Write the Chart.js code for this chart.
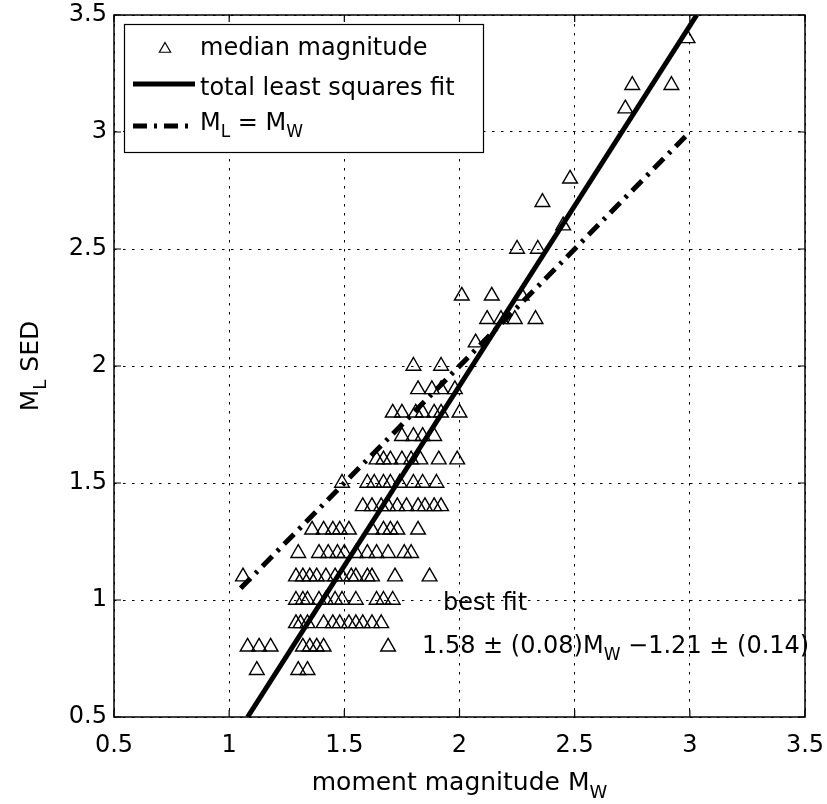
<!DOCTYPE html>
<html>
<head>
<meta charset="utf-8">
<script src="https://cdn.jsdelivr.net/npm/chart.js@4.4.0/dist/chart.umd.min.js"></script>
<style>
  html, body { margin: 0; padding: 0; background: #fff; }
  #wrap { width: 827px; height: 804px; }
</style>
</head>
<body>
<div id="wrap"><canvas id="chart" width="827" height="804"></canvas></div>
<script>
// median magnitude of each event: moment magnitude Mw (x) vs ML SED (y)
// one line per ML level
const mwMedian = [
  2.99,
  2.75, 2.92,
  2.72,
  2.48,
  2.36,
  2.45,
  2.25, 2.34,
  2.01, 2.14, 2.27,
  2.12, 2.18, 2.24, 2.33,
  2.07,
  1.80, 1.92,
  1.82, 1.88, 1.92, 1.98,
  1.71, 1.75, 1.81, 1.84, 1.89, 1.92, 2.00,
  1.75, 1.80, 1.84, 1.89,
  1.64, 1.67, 1.70, 1.75, 1.79, 1.83, 1.91, 1.99,
  1.49, 1.60, 1.63, 1.67, 1.70, 1.74, 1.80, 1.84, 1.90,
  1.58, 1.62, 1.66, 1.69, 1.73, 1.77, 1.82, 1.85, 1.89, 1.92,
  1.36, 1.41, 1.45, 1.48, 1.52, 1.62, 1.67, 1.70, 1.73, 1.82,
  1.30, 1.39, 1.43, 1.47, 1.50, 1.55, 1.60, 1.64, 1.69, 1.76, 1.79,
  1.06, 1.29, 1.32, 1.35, 1.38, 1.42, 1.46, 1.49, 1.53, 1.55, 1.60, 1.62, 1.72, 1.87,
  1.29, 1.32, 1.34, 1.39, 1.42, 1.46, 1.49, 1.55, 1.64, 1.67, 1.71,
  1.29, 1.31, 1.34, 1.41, 1.45, 1.48, 1.52, 1.55, 1.58, 1.62, 1.66,
  1.08, 1.13, 1.18, 1.32, 1.35, 1.38, 1.41, 1.69,
  1.12, 1.30, 1.34
];
const mlMedian = [
  3.4,
  3.2, 3.2,
  3.1,
  2.8,
  2.7,
  2.6,
  2.5, 2.5,
  2.3, 2.3, 2.3,
  2.2, 2.2, 2.2, 2.2,
  2.1,
  2.0, 2.0,
  1.9, 1.9, 1.9, 1.9,
  1.8, 1.8, 1.8, 1.8, 1.8, 1.8, 1.8,
  1.7, 1.7, 1.7, 1.7,
  1.6, 1.6, 1.6, 1.6, 1.6, 1.6, 1.6, 1.6,
  1.5, 1.5, 1.5, 1.5, 1.5, 1.5, 1.5, 1.5, 1.5,
  1.4, 1.4, 1.4, 1.4, 1.4, 1.4, 1.4, 1.4, 1.4, 1.4,
  1.3, 1.3, 1.3, 1.3, 1.3, 1.3, 1.3, 1.3, 1.3, 1.3,
  1.2, 1.2, 1.2, 1.2, 1.2, 1.2, 1.2, 1.2, 1.2, 1.2, 1.2,
  1.1, 1.1, 1.1, 1.1, 1.1, 1.1, 1.1, 1.1, 1.1, 1.1, 1.1, 1.1, 1.1, 1.1,
  1.0, 1.0, 1.0, 1.0, 1.0, 1.0, 1.0, 1.0, 1.0, 1.0, 1.0,
  0.9, 0.9, 0.9, 0.9, 0.9, 0.9, 0.9, 0.9, 0.9, 0.9, 0.9,
  0.8, 0.8, 0.8, 0.8, 0.8, 0.8, 0.8, 0.8,
  0.7, 0.7, 0.7
];

// end points of the two lines
const fitMw = [1.08, 3.03];
const fitMl = [0.5, 3.5];
const oneToOneMw = [1.05, 3.0];
const oneToOneMl = [1.05, 3.0];

const tickValues = [0.5, 1, 1.5, 2, 2.5, 3, 3.5];
const tickLabels = ['0.5', '1', '1.5', '2', '2.5', '3', '3.5'];

const FONT = "'DejaVu Sans', sans-serif";
const DASHDOT = [14, 7, 3, 7];

function toPoints(xs, ys) {
  return xs.map((x, i) => ({ x: x, y: ys[i] }));
}

// text with subscripts: parts = [[text, isSub], ...]
function richWidth(ctx, parts, size) {
  let w = 0;
  parts.forEach(([t, sub]) => {
    ctx.font = Math.round(sub ? size * 0.72 : size) + 'px ' + FONT;
    w += ctx.measureText(t).width;
  });
  return w;
}
function richText(ctx, parts, x, y, size) {
  let cx = x;
  ctx.textAlign = 'left';
  ctx.textBaseline = 'alphabetic';
  parts.forEach(([t, sub]) => {
    ctx.font = Math.round(sub ? size * 0.72 : size) + 'px ' + FONT;
    ctx.fillText(t, cx, y + (sub ? size * 0.3 : 0));
    cx += ctx.measureText(t).width;
  });
}

const decor = {
  id: 'decor',
  afterDatasetsDraw(chart) {
    const ctx = chart.ctx;
    const a = chart.chartArea;
    const xs = chart.scales.x, ys = chart.scales.y;
    ctx.save();
    ctx.strokeStyle = '#000';
    ctx.fillStyle = '#000';

    // axes box
    ctx.lineWidth = 1.5;
    ctx.setLineDash([]);
    ctx.strokeRect(a.left, a.top, a.right - a.left, a.bottom - a.top);

    // inward tick marks
    ctx.lineWidth = 1.2;
    ctx.beginPath();
    tickValues.forEach(v => {
      const px = xs.getPixelForValue(v);
      ctx.moveTo(px, a.bottom); ctx.lineTo(px, a.bottom - 7);
      ctx.moveTo(px, a.top); ctx.lineTo(px, a.top + 7);
      const py = ys.getPixelForValue(v);
      ctx.moveTo(a.left, py); ctx.lineTo(a.left + 7, py);
      ctx.moveTo(a.right, py); ctx.lineTo(a.right - 7, py);
    });
    ctx.stroke();

    // legend
    ctx.fillStyle = '#fff';
    ctx.fillRect(124, 24, 359, 128);
    ctx.lineWidth = 1.2;
    ctx.strokeRect(124.5, 24.5, 359, 128);
    ctx.fillStyle = '#000';

    ctx.lineWidth = 1.2;
    ctx.beginPath();
    const tr = 6.5, tx = 165, ty = 49;
    ctx.moveTo(tx, ty - tr);
    ctx.lineTo(tx + tr * 0.866, ty + tr * 0.5);
    ctx.lineTo(tx - tr * 0.866, ty + tr * 0.5);
    ctx.closePath();
    ctx.stroke();
    richText(ctx, [['median magnitude', false]], 200, 55, 24);

    ctx.lineWidth = 5;
    ctx.beginPath();
    ctx.moveTo(133, 84); ctx.lineTo(195, 84);
    ctx.stroke();
    richText(ctx, [['total least squares fit', false]], 200, 95, 24);

    ctx.setLineDash(DASHDOT);
    ctx.beginPath();
    ctx.moveTo(133, 126); ctx.lineTo(195, 126);
    ctx.stroke();
    ctx.setLineDash([]);
    richText(ctx, [['M', false], ['L', true], [' = M', false], ['W', true]], 200, 130, 24);

    // best fit annotation
    richText(ctx, [['best fit', false]], 443, 610, 24);
    richText(ctx, [['1.58 \u00b1 (0.08)M', false], ['W', true], [' \u22121.21 \u00b1 (0.14)', false]], 422, 653, 24);

    // axis titles
    const xt = [['moment magnitude M', false], ['W', true]];
    const xw = richWidth(ctx, xt, 25);
    richText(ctx, xt, (a.left + a.right) / 2 - xw / 2, 790, 25);

    const yt = [['M', false], ['L', true], [' SED', false]];
    const yw = richWidth(ctx, yt, 25);
    ctx.translate(38, (a.top + a.bottom) / 2);
    ctx.rotate(-Math.PI / 2);
    richText(ctx, yt, -yw / 2, 0, 25);

    ctx.restore();
  }
};

const gridOpts = { color: '#000', lineWidth: 1, drawTicks: false };
const borderOpts = { display: false, dash: [2.5, 6.5] };
const tickFmt = (v) => {
  const i = tickValues.indexOf(v);
  return i >= 0 ? tickLabels[i] : '';
};

new Chart(document.getElementById('chart').getContext('2d'), {
  type: 'scatter',
  data: {
    datasets: [
      {
        label: 'total least squares fit',
        data: toPoints(fitMw, fitMl),
        showLine: true,
        borderColor: '#000',
        borderWidth: 5,
        pointRadius: 0,
        order: 1
      },
      {
        label: 'ML = MW',
        data: toPoints(oneToOneMw, oneToOneMl),
        showLine: true,
        borderColor: '#000',
        borderWidth: 5,
        borderDash: DASHDOT,
        pointRadius: 0,
        order: 2
      },
      {
        label: 'median magnitude',
        data: toPoints(mwMedian, mlMedian),
        pointStyle: 'triangle',
        pointRadius: 8.5,
        borderWidth: 1.4,
        borderColor: '#000',
        backgroundColor: 'rgba(0,0,0,0)',
        order: 3
      }
    ]
  },
  options: {
    responsive: false,
    animation: false,
    layout: { padding: { top: 15, right: 22, left: 0, bottom: 0 } },
    plugins: {
      legend: { display: false },
      tooltip: { enabled: false }
    },
    scales: {
      x: {
        type: 'linear',
        min: 0.5,
        max: 3.5,
        afterBuildTicks: s => { s.ticks = tickValues.map(v => ({ value: v })); },
        afterFit: s => { s.height = 87; s.paddingLeft = 0; s.paddingRight = 0; },
        grid: gridOpts,
        border: borderOpts,
        ticks: { color: '#000', padding: 14, font: { family: FONT, size: 24 }, callback: tickFmt }
      },
      y: {
        type: 'linear',
        min: 0.5,
        max: 3.5,
        afterBuildTicks: s => { s.ticks = tickValues.map(v => ({ value: v })); },
        afterFit: s => { s.width = 114; s.paddingTop = 0; s.paddingBottom = 0; },
        grid: gridOpts,
        border: borderOpts,
        ticks: { color: '#000', padding: 7, font: { family: FONT, size: 24 }, callback: tickFmt }
      }
    }
  },
  plugins: [decor]
});
</script>
</body>
</html>
